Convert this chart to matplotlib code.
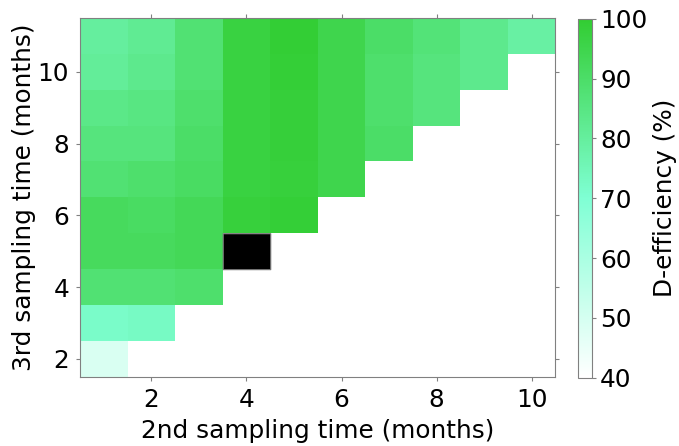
import numpy as np
import matplotlib.pyplot as plt
from matplotlib.colors import LinearSegmentedColormap, ListedColormap

plt.rcParams['font.family'] = ['DejaVu Sans']

# 2nd sampling time (columns) and 3rd sampling time (rows), months
t2 = np.arange(1, 11)
t3 = np.arange(2, 12)

# D-efficiency (%) per row of 3rd sampling time, starting at t2 = 1
deff_rows = {
    2: [49],
    3: [72, 73],
    4: [88, 88, 89],
    5: [92, 92, 93, 100],
    6: [92, 91, 93, 98, 99],
    7: [88, 89, 91, 97, 98, 95],
    8: [86, 86, 90, 97, 98.5, 95, 90],
    9: [84, 85, 89, 97, 98.5, 95, 89, 86],
    10: [81, 83, 88, 97, 99, 95, 89, 86, 83],
    11: [80, 82, 88, 97, 99.5, 95, 90, 87, 83, 79],
}
best = (4, 5)  # optimal design, shown in black

Z = np.full((len(t3), len(t2)), np.nan)
for i, y in enumerate(t3):
    vals = deff_rows[y]
    Z[i, :len(vals)] = vals

B = np.full_like(Z, np.nan)
B[list(t3).index(best[1]), list(t2).index(best[0])] = 1
Z[~np.isnan(B)] = np.nan

cmap = LinearSegmentedColormap.from_list(
    "deff", [(0.0, "#ffffff"), (0.5, "#7fffd4"), (1.0, "#32cd32")])

fs = 17.8
fig = plt.figure(figsize=(6.79, 4.46), dpi=100)
ax = fig.add_axes([0.118, 0.155, 0.700, 0.805])
cax = fig.add_axes([0.851, 0.153, 0.0206, 0.805])

xe = np.append(t2 - 0.5, t2[-1] + 0.5)
ye = np.append(t3 - 0.5, t3[-1] + 0.5)
mesh = ax.pcolormesh(xe, ye, np.ma.masked_invalid(Z), cmap=cmap, vmin=40, vmax=100)
ax.pcolor(xe, ye, np.ma.masked_invalid(B), cmap=ListedColormap(["black"]),
          edgecolor="#777777", linewidth=0.8)

ax.set_xlim(0.5, 10.5)
ax.set_ylim(1.5, 11.5)
ax.set_xticks([2, 4, 6, 8, 10])
ax.set_yticks([2, 4, 6, 8, 10])
ax.tick_params(direction="out", length=3, color="#808080", labelsize=fs,
               top=True, right=True)
ax.tick_params(axis="x", pad=5)
ax.tick_params(axis="y", pad=5)
for s in ax.spines.values():
    s.set_color("#808080")
ax.set_xlabel("2nd sampling time (months)", fontsize=fs, labelpad=5)
ax.set_ylabel("3rd sampling time (months)", fontsize=fs, labelpad=1)

cb = fig.colorbar(mesh, cax=cax)
cb.set_ticks([40, 50, 60, 70, 80, 90, 100])
cb.ax.tick_params(direction="out", length=3, color="#808080", labelsize=fs, pad=3)
cb.outline.set_edgecolor("#808080")
cb.set_label("D-efficiency (%)", fontsize=fs, labelpad=4)

fig.savefig("out.png", dpi=100)
